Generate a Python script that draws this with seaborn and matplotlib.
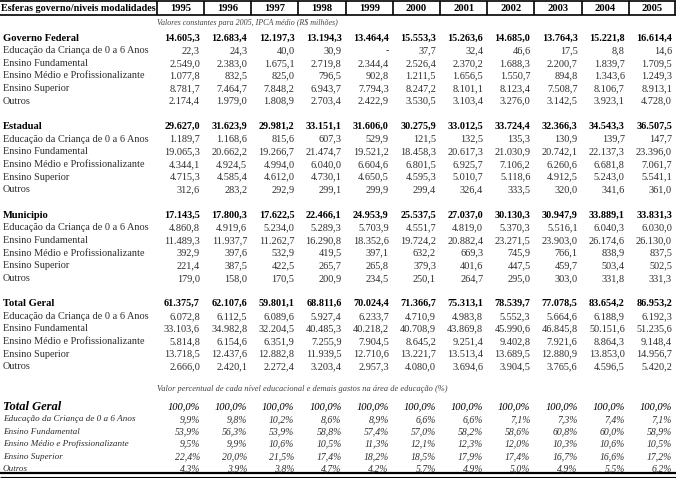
import matplotlib
matplotlib.use('Agg')
import matplotlib.pyplot as plt
import seaborn as sns

years = [1995, 1996, 1997, 1998, 1999, 2000, 2001, 2002, 2003, 2004, 2005]

header_label = "Esferas governo/niveis modalidades"
note_values = "Valores constantes para 2005, IPCA médio (R$ milhões)"
note_percent = "Valor percentual de cada nível educacional e demais gastos na área de educação (%)"

levels = ["Educação da Criança de 0 a 6 Anos", "Ensino Fundamental",
          "Ensino Médio e Profissionalizante", "Ensino Superior", "Outros"]

groups = ["Governo Federal", "Estadual", "Municipio", "Total Geral"]

federal_total = [14605.3, 12683.4, 12197.3, 13194.3, 13464.4, 15553.3, 15263.6, 14685.0, 13764.3, 15221.8, 16614.4]
federal_infantil = [22.3, 24.3, 40.0, 30.9, None, 37.7, 32.4, 46.6, 17.5, 8.8, 14.6]
federal_fundamental = [2549.0, 2383.0, 1675.1, 2719.8, 2344.4, 2526.4, 2370.2, 1688.3, 2200.7, 1839.7, 1709.5]
federal_medio = [1077.8, 832.5, 825.0, 796.5, 902.8, 1211.5, 1656.5, 1550.7, 894.8, 1343.6, 1249.3]
federal_superior = [8781.7, 7464.7, 7848.2, 6943.7, 7794.3, 8247.2, 8101.1, 8123.4, 7508.7, 8106.7, 8913.1]
federal_outros = [2174.4, 1979.0, 1808.9, 2703.4, 2422.9, 3530.5, 3103.4, 3276.0, 3142.5, 3923.1, 4728.0]

estadual_total = [29627.0, 31623.9, 29981.2, 33151.1, 31606.0, 30275.9, 33012.5, 33724.4, 32366.3, 34543.3, 36507.5]
estadual_infantil = [1189.7, 1168.6, 815.6, 607.3, 529.9, 121.5, 132.5, 135.3, 130.9, 139.7, 147.7]
estadual_fundamental = [19065.3, 20662.2, 19266.7, 21474.7, 19521.2, 18458.3, 20617.3, 21030.9, 20742.1, 22137.3, 23396.0]
estadual_medio = [4344.1, 4924.5, 4994.0, 6040.0, 6604.6, 6801.5, 6925.7, 7106.2, 6260.6, 6681.8, 7061.7]
estadual_superior = [4715.3, 4585.4, 4612.0, 4730.1, 4650.5, 4595.3, 5010.7, 5118.6, 4912.5, 5243.0, 5541.1]
estadual_outros = [312.6, 283.2, 292.9, 299.1, 299.9, 299.4, 326.4, 333.5, 320.0, 341.6, 361.0]

municipio_total = [17143.5, 17800.3, 17622.5, 22466.1, 24953.9, 25537.5, 27037.0, 30130.3, 30947.9, 33889.1, 33831.3]
municipio_infantil = [4860.8, 4919.6, 5234.0, 5289.3, 5703.9, 4551.7, 4819.0, 5370.3, 5516.1, 6040.3, 6030.0]
municipio_fundamental = [11489.3, 11937.7, 11262.7, 16290.8, 18352.6, 19724.2, 20882.4, 23271.5, 23903.0, 26174.6, 26130.0]
municipio_medio = [392.9, 397.6, 532.9, 419.5, 397.1, 632.2, 669.3, 745.9, 766.1, 838.9, 837.5]
municipio_superior = [221.4, 387.5, 422.5, 265.7, 265.8, 379.3, 401.6, 447.5, 459.7, 503.4, 502.5]
municipio_outros = [179.0, 158.0, 170.5, 200.9, 234.5, 250.1, 264.7, 295.0, 303.0, 331.8, 331.3]

geral_total = [61375.7, 62107.6, 59801.1, 68811.6, 70024.4, 71366.7, 75313.1, 78539.7, 77078.5, 83654.2, 86953.2]
geral_infantil = [6072.8, 6112.5, 6089.6, 5927.4, 6233.7, 4710.9, 4983.8, 5552.3, 5664.6, 6188.9, 6192.3]
geral_fundamental = [33103.6, 34982.8, 32204.5, 40485.3, 40218.2, 40708.9, 43869.8, 45990.6, 46845.8, 50151.6, 51235.6]
geral_medio = [5814.8, 6154.6, 6351.9, 7255.9, 7904.5, 8645.2, 9251.4, 9402.8, 7921.6, 8864.3, 9148.4]
geral_superior = [13718.5, 12437.6, 12882.8, 11939.5, 12710.6, 13221.7, 13513.4, 13689.5, 12880.9, 13853.0, 14956.7]
geral_outros = [2666.0, 2420.1, 2272.4, 3203.4, 2957.3, 4080.0, 3694.6, 3904.5, 3765.6, 4596.5, 5420.2]

pct_total = [100.0] * 11
pct_infantil = [9.9, 9.8, 10.2, 8.6, 8.9, 6.6, 6.6, 7.1, 7.3, 7.4, 7.1]
pct_fundamental = [53.9, 56.3, 53.9, 58.8, 57.4, 57.0, 58.2, 58.6, 60.8, 60.0, 58.9]
pct_medio = [9.5, 9.9, 10.6, 10.5, 11.3, 12.1, 12.3, 12.0, 10.3, 10.6, 10.5]
pct_superior = [22.4, 20.0, 21.5, 17.4, 18.2, 18.5, 17.9, 17.4, 16.7, 16.6, 17.2]
pct_outros = [4.3, 3.9, 3.8, 4.7, 4.2, 5.7, 4.9, 5.0, 4.9, 5.5, 6.2]

blocks = [
    [federal_total, federal_infantil, federal_fundamental, federal_medio, federal_superior, federal_outros],
    [estadual_total, estadual_infantil, estadual_fundamental, estadual_medio, estadual_superior, estadual_outros],
    [municipio_total, municipio_infantil, municipio_fundamental, municipio_medio, municipio_superior, municipio_outros],
    [geral_total, geral_infantil, geral_fundamental, geral_medio, geral_superior, geral_outros],
]
pct_block = [pct_total, pct_infantil, pct_fundamental, pct_medio, pct_superior, pct_outros]


def fmt(v):
    if v is None:
        return "-"
    s = f"{v:,.1f}"
    return s.replace(",", "X").replace(".", ",").replace("X", ".")


sns.set_theme(style="white")
plt.rcParams['font.family'] = ['Liberation Serif', 'DejaVu Serif']

W, H = 676, 478
fig = plt.figure(figsize=(W / 100, H / 100), dpi=100)
ax = fig.add_axes([0, 0, 1, 1])
ax.set_xlim(0, W)
ax.set_ylim(H, 0)
ax.axis('off')

# column layout
col_right = [200 + 47.2 * i for i in range(len(years))]
left_edge = 157
bounds = [left_edge] + [r + 4 for r in col_right]
bounds[-1] = W - 0.7
grey = '#2e2e2e'
fs = 7.4

# header row with boxed cells
ax.hlines([1, 14.5], 0, W, color='black', lw=1.2)
ax.vlines(bounds, 1, 14.5, color='black', lw=1.2)
ax.text(1, 8, header_label, fontsize=7.3, fontweight='bold', va='center', ha='left', color='black')
for i, yr in enumerate(years):
    ax.text((bounds[i] + bounds[i + 1]) / 2, 8, str(yr), fontsize=7.6, fontweight='bold',
            va='center', ha='center', color='black')

ax.text(left_edge, 22.5, note_values, fontsize=5.8, style='italic', va='center', ha='left', color='#444')

# absolute values
lh = 12.65
y0 = 38
for g, (name, rows) in enumerate(zip(groups, blocks)):
    base = y0 + g * 7 * lh
    for r, vals in enumerate(rows):
        y = base + r * lh
        if r == 0:
            ax.text(3, y, name, fontsize=7.6, fontweight='bold', va='center', color='black')
        else:
            ax.text(3, y, levels[r - 1], fontsize=fs, va='center', color=grey)
        for i, v in enumerate(vals):
            ax.text(col_right[i], y, fmt(v), fontsize=7.3 if r == 0 else fs, va='center', ha='right',
                    fontweight='bold' if r == 0 else 'normal',
                    color='black' if r == 0 else grey)

# percentage block
ax.text(left_edge, 389, note_percent, fontsize=6.0, style='italic', va='center', ha='left', color='#444')
py0 = 407
plh = 12.4
for r, vals in enumerate(pct_block):
    y = py0 + r * plh
    if r == 0:
        ax.text(3, y, "Total Geral", fontsize=9.0, fontweight='bold', style='italic',
                va='center', color='black')
    else:
        ax.text(3, y, levels[r - 1], fontsize=6.6, style='italic', va='center', color=grey)
    for i, v in enumerate(vals):
        ax.text(col_right[i], y, fmt(v) + "%", fontsize=7.6 if r == 0 else 7.0, style='italic',
                va='center', ha='right', color='black' if r == 0 else grey)

# closing double rule
ax.hlines(473, 0, W, color='black', lw=1.6)
ax.hlines(476.5, 0, W, color='black', lw=0.8)

plt.savefig("out.png", dpi=100)
plt.close()
